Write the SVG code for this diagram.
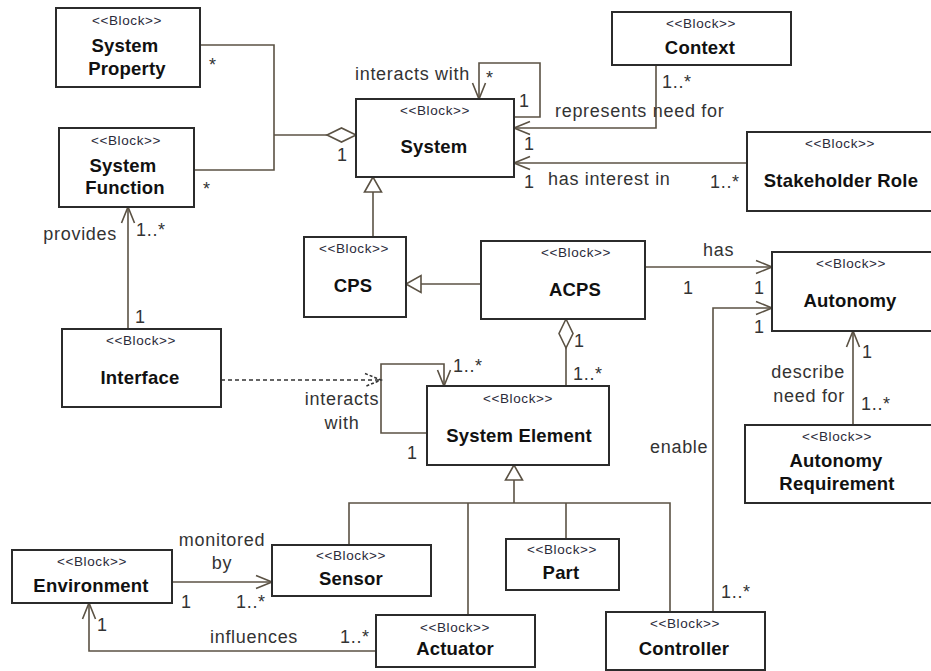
<svg xmlns="http://www.w3.org/2000/svg" width="931" height="671" viewBox="0 0 931 671">
  <style>
    .box { fill: #ffffff; stroke: #2b2b2b; stroke-width: 2; }
    .st { font-family: "Liberation Sans", Arial, sans-serif; font-size: 13.5px; letter-spacing: 0.6px; fill: #2a2a3a; text-anchor: middle; }
    .nm { font-family: "Liberation Sans", Arial, sans-serif; font-size: 18.5px; font-weight: bold; letter-spacing: 0.2px; fill: #111111; text-anchor: middle; }
    .lb { font-family: "Liberation Sans", Arial, sans-serif; font-size: 18px; letter-spacing: 0.7px; fill: #333333; }
    .mid { text-anchor: middle; }
    .end { text-anchor: end; }
    .ln { fill: none; stroke: #5b5244; stroke-width: 1.6; }
    .dash { fill: none; stroke: #333333; stroke-width: 1.6; stroke-dasharray: 4 3; }
  </style>
  <defs>
    <marker id="open" viewBox="-18 -8 20 16" refX="0" refY="0" markerWidth="20" markerHeight="16" markerUnits="userSpaceOnUse" orient="auto" overflow="visible">
      <path d="M-16,-6.5 L0,0 L-16,6.5" fill="none" stroke="#5b5244" stroke-width="1.6"/>
    </marker>
    <marker id="openDash" viewBox="-18 -8 20 16" refX="0" refY="0" markerWidth="20" markerHeight="16" markerUnits="userSpaceOnUse" orient="auto" overflow="visible">
      <path d="M-16,-6.5 L0,0 L-16,6.5" fill="none" stroke="#333333" stroke-width="1.6" stroke-dasharray="3 2"/>
    </marker>
    <marker id="tri" viewBox="-17 -10 19 20" refX="0" refY="0" markerWidth="19" markerHeight="20" markerUnits="userSpaceOnUse" orient="auto" overflow="visible">
      <path d="M0,0 L-15,-8.5 L-15,8.5 Z" fill="#ffffff" stroke="#5b5244" stroke-width="1.6"/>
    </marker>
    <marker id="dia" viewBox="-31 -9 33 18" refX="0" refY="0" markerWidth="33" markerHeight="18" markerUnits="userSpaceOnUse" orient="auto" overflow="visible">
      <path d="M0,0 L-14.5,-7 L-29,0 L-14.5,7 Z" fill="#ffffff" stroke="#5b5244" stroke-width="1.6"/>
    </marker>
  </defs>

  <!-- connectors -->
  <g id="connectors">
    <!-- System Property / System Function aggregated into System -->
    <path class="ln" d="M200,45 H274 V170 H194"/>
    <path class="ln" d="M274,135 H356" marker-end="url(#dia)"/>
    <!-- System interacts with System -->
    <path class="ln" d="M514,117 H540 V63 H479 V99" marker-end="url(#open)"/>
    <!-- Context represents need for System -->
    <path class="ln" d="M656,65 V128 H514" marker-end="url(#open)"/>
    <!-- Stakeholder Role has interest in System -->
    <path class="ln" d="M747,163 H514" marker-end="url(#open)"/>
    <!-- CPS specialises System -->
    <path class="ln" d="M373,237 V177" marker-end="url(#tri)"/>
    <!-- ACPS specialises CPS -->
    <path class="ln" d="M481,284 H406" marker-end="url(#tri)"/>
    <!-- ACPS has Autonomy -->
    <path class="ln" d="M645,267 H772" marker-end="url(#open)"/>
    <!-- Controller enables Autonomy -->
    <path class="ln" d="M713,612 V308 H772" marker-end="url(#open)"/>
    <!-- Autonomy Requirement describes need for Autonomy -->
    <path class="ln" d="M853,425 V331" marker-end="url(#open)"/>
    <!-- System Element aggregated into ACPS -->
    <path class="ln" d="M566,386 V319" marker-end="url(#dia)"/>
    <!-- System Element interacts with System Element -->
    <path class="ln" d="M427,433 H381 V364 H444 V386" marker-end="url(#open)"/>
    <!-- Interface to System Element interaction -->
    <path class="dash" d="M221,380 H381" marker-end="url(#openDash)"/>
    <!-- Interface provides System Function -->
    <path class="ln" d="M128,329 V207" marker-end="url(#open)"/>
    <!-- specialisations of System Element -->
    <path class="ln" d="M514,503 V465" marker-end="url(#tri)"/>
    <path class="ln" d="M349,545 V503 H670 V612"/>
    <path class="ln" d="M468,503 V615"/>
    <path class="ln" d="M566,503 V539"/>
    <!-- Environment monitored by Sensor -->
    <path class="ln" d="M172,582 H272" marker-end="url(#open)"/>
    <!-- Actuator influences Environment -->
    <path class="ln" d="M376,651 H89 V603" marker-end="url(#open)"/>

    <!-- association labels and multiplicities -->
    <text class="lb" x="209" y="71">*</text>
    <text class="lb" x="203" y="195">*</text>
    <text class="lb" x="337" y="161">1</text>
    <text class="lb" x="355" y="80">interacts with</text>
    <text class="lb" x="486" y="84">*</text>
    <text class="lb" x="519" y="107">1</text>
    <text class="lb" x="555" y="117">represents need for</text>
    <text class="lb" x="662" y="88">1..*</text>
    <text class="lb" x="524" y="150">1</text>
    <text class="lb" x="524" y="188">1</text>
    <text class="lb" x="548" y="185">has interest in</text>
    <text class="lb" x="710" y="188">1..*</text>
    <text class="lb" x="703" y="256">has</text>
    <text class="lb" x="683" y="294">1</text>
    <text class="lb" x="754" y="294">1</text>
    <text class="lb" x="754" y="333">1</text>
    <text class="lb" x="862" y="358">1</text>
    <text class="lb end" x="845" y="378">describe</text>
    <text class="lb end" x="845" y="402">need for</text>
    <text class="lb" x="861" y="410">1..*</text>
    <text class="lb" x="650" y="453">enable</text>
    <text class="lb" x="721" y="598">1..*</text>
    <text class="lb" x="574" y="347">1</text>
    <text class="lb" x="573" y="380">1..*</text>
    <text class="lb" x="453" y="372">1..*</text>
    <text class="lb" x="407" y="459">1</text>
    <text class="lb mid" x="342" y="405">interacts</text>
    <text class="lb mid" x="342" y="429">with</text>
    <text class="lb end" x="117" y="240">provides</text>
    <text class="lb" x="136" y="236">1..*</text>
    <text class="lb" x="135" y="323">1</text>
    <text class="lb mid" x="222" y="546">monitored</text>
    <text class="lb mid" x="222" y="569">by</text>
    <text class="lb" x="181" y="608">1</text>
    <text class="lb" x="236" y="608">1..*</text>
    <text class="lb" x="97" y="631">1</text>
    <text class="lb" x="210" y="643">influences</text>
    <text class="lb" x="340" y="643">1..*</text>
  </g>

  <!-- blocks -->
  <g id="system-property">
    <rect class="box" x="56" y="8" width="144" height="79"/>
    <text class="st" x="127" y="25">&lt;&lt;Block&gt;&gt;</text>
    <text class="nm" x="125" y="52">System</text>
    <text class="nm" x="127" y="75">Property</text>
  </g>
  <g id="system-function">
    <rect class="box" x="59" y="128" width="135" height="79"/>
    <text class="st" x="126" y="145">&lt;&lt;Block&gt;&gt;</text>
    <text class="nm" x="123" y="172">System</text>
    <text class="nm" x="125" y="194">Function</text>
  </g>
  <g id="system">
    <rect class="box" x="356" y="99" width="158" height="78"/>
    <text class="st" x="435" y="115">&lt;&lt;Block&gt;&gt;</text>
    <text class="nm" x="434" y="153">System</text>
  </g>
  <g id="context">
    <rect class="box" x="612" y="12" width="179" height="53"/>
    <text class="st" x="701" y="28">&lt;&lt;Block&gt;&gt;</text>
    <text class="nm" x="700" y="54">Context</text>
  </g>
  <g id="stakeholder-role">
    <rect class="box" x="747" y="132" width="188" height="79"/>
    <text class="st" x="840" y="148">&lt;&lt;Block&gt;&gt;</text>
    <text class="nm" x="841" y="187">Stakeholder Role</text>
  </g>
  <g id="cps">
    <rect class="box" x="304" y="237" width="102" height="80"/>
    <text class="st" x="354" y="253">&lt;&lt;Block&gt;&gt;</text>
    <text class="nm" x="353" y="292" letter-spacing="1.2">CPS</text>
  </g>
  <g id="acps">
    <rect class="box" x="481" y="241" width="164" height="78"/>
    <text class="st" x="576" y="257">&lt;&lt;Block&gt;&gt;</text>
    <text class="nm" x="575" y="296" letter-spacing="1.2">ACPS</text>
  </g>
  <g id="autonomy">
    <rect class="box" x="772" y="252" width="162" height="79"/>
    <text class="st" x="851" y="268">&lt;&lt;Block&gt;&gt;</text>
    <text class="nm" x="850" y="307">Autonomy</text>
  </g>
  <g id="autonomy-requirement">
    <rect class="box" x="745" y="425" width="189" height="78"/>
    <text class="st" x="837" y="441">&lt;&lt;Block&gt;&gt;</text>
    <text class="nm" x="836" y="467">Autonomy</text>
    <text class="nm" x="837" y="490">Requirement</text>
  </g>
  <g id="interface">
    <rect class="box" x="62" y="329" width="159" height="78"/>
    <text class="st" x="141" y="345">&lt;&lt;Block&gt;&gt;</text>
    <text class="nm" x="140" y="384">Interface</text>
  </g>
  <g id="system-element">
    <rect class="box" x="427" y="386" width="182" height="79"/>
    <text class="st" x="518" y="403">&lt;&lt;Block&gt;&gt;</text>
    <text class="nm" x="519" y="442">System Element</text>
  </g>
  <g id="environment">
    <rect class="box" x="12" y="550" width="160" height="53"/>
    <text class="st" x="92" y="566">&lt;&lt;Block&gt;&gt;</text>
    <text class="nm" x="91" y="592">Environment</text>
  </g>
  <g id="sensor">
    <rect class="box" x="272" y="545" width="159" height="51"/>
    <text class="st" x="351" y="560">&lt;&lt;Block&gt;&gt;</text>
    <text class="nm" x="351" y="585">Sensor</text>
  </g>
  <g id="part">
    <rect class="box" x="506" y="539" width="113" height="51"/>
    <text class="st" x="562" y="554">&lt;&lt;Block&gt;&gt;</text>
    <text class="nm" x="561" y="579">Part</text>
  </g>
  <g id="actuator">
    <rect class="box" x="376" y="615" width="159" height="52"/>
    <text class="st" x="455" y="632">&lt;&lt;Block&gt;&gt;</text>
    <text class="nm" x="455" y="655">Actuator</text>
  </g>
  <g id="controller">
    <rect class="box" x="606" y="612" width="159" height="58"/>
    <text class="st" x="685" y="628">&lt;&lt;Block&gt;&gt;</text>
    <text class="nm" x="684" y="655">Controller</text>
  </g>
</svg>
